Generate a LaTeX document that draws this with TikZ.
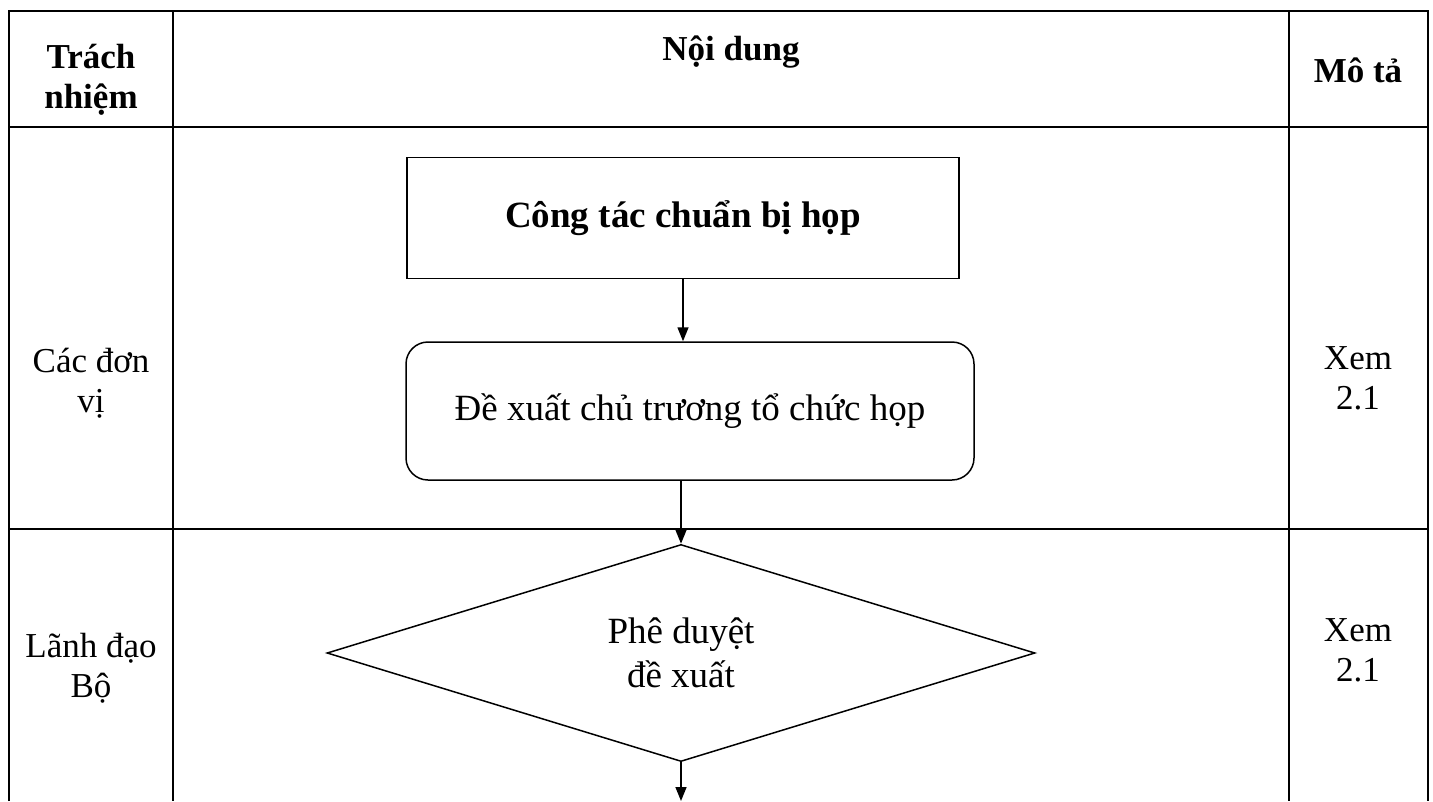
\documentclass[tikz,border=0pt]{standalone}
\usepackage{fontspec}
\setmainfont{Liberation Serif}
\usetikzlibrary{arrows.meta,shapes.geometric}

\begin{document}
\begin{tikzpicture}[x=1pt,y=-1pt,>={Triangle[length=14pt,width=11pt]}]
\tikzstyle{cell} = [align=center, font=\fontsize{35}{40}\selectfont]
\tikzstyle{head} = [align=center, font=\fontsize{35}{40}\selectfont\bfseries]
\tikzstyle{block} = [rectangle, draw, line width=1.5pt, minimum width=552pt,
minimum height=121pt, font=\fontsize{37}{42}\selectfont\bfseries]
\tikzstyle{block_op} = [rectangle, draw, line width=1.5pt, rounded corners=22pt,
minimum width=568pt, minimum height=138pt, font=\fontsize{37}{42}\selectfont]
\tikzstyle{decision} = [diamond, draw, line width=1.5pt, minimum width=708pt,
minimum height=208pt, inner sep=0pt, align=center, font=\fontsize{37}{44}\selectfont]
\tikzstyle{line} = [draw, line width=1.5pt, ->]

\useasboundingbox (0,0) rectangle (1433,801);
% table
\draw[line width=1.8pt] (9,801) -- (9,11) -- (1428,11) -- (1428,801);
\draw[line width=1.8pt] (173,11) -- (173,801);
\draw[line width=1.8pt] (1289,11) -- (1289,801);
\draw[line width=1.8pt] (9,127) -- (1428,127);
\draw[line width=1.8pt] (9,529) -- (1428,529);

% header
\node [head] (trach) at (91,80) {Trách\\nhiệm};
\node [head] (noidung) at (731,52) {Nội dung};
\node [head] (mota) at (1358,70) {Mô tả};
% row 1
\node [cell] (donvi) at (91,383) {Các đơn\\vị};
\node [cell] (xem1) at (1358,378) {Xem\\2.1};
% row 2
\node [cell] (lanhdao) at (91,668) {Lãnh đạo\\Bộ};
\node [cell] (xem2) at (1358,650) {Xem\\2.1};

% flow
\node [block] (prep) at (683,218) {Công tác chuẩn bị họp};
\node [block_op] (propose) at (690,411) {Đề xuất chủ trương tổ chức họp};
\node [decision] (approve) at (681,653) {Phê duyệt\\đề xuất};
\coordinate (next) at (681,801);

\path [line] (prep) -- (prep |- propose.north);
\path [line] (approve |- propose.south) -- (approve);
\path [line] (approve) -- (next);
\end{tikzpicture}
\end{document}
